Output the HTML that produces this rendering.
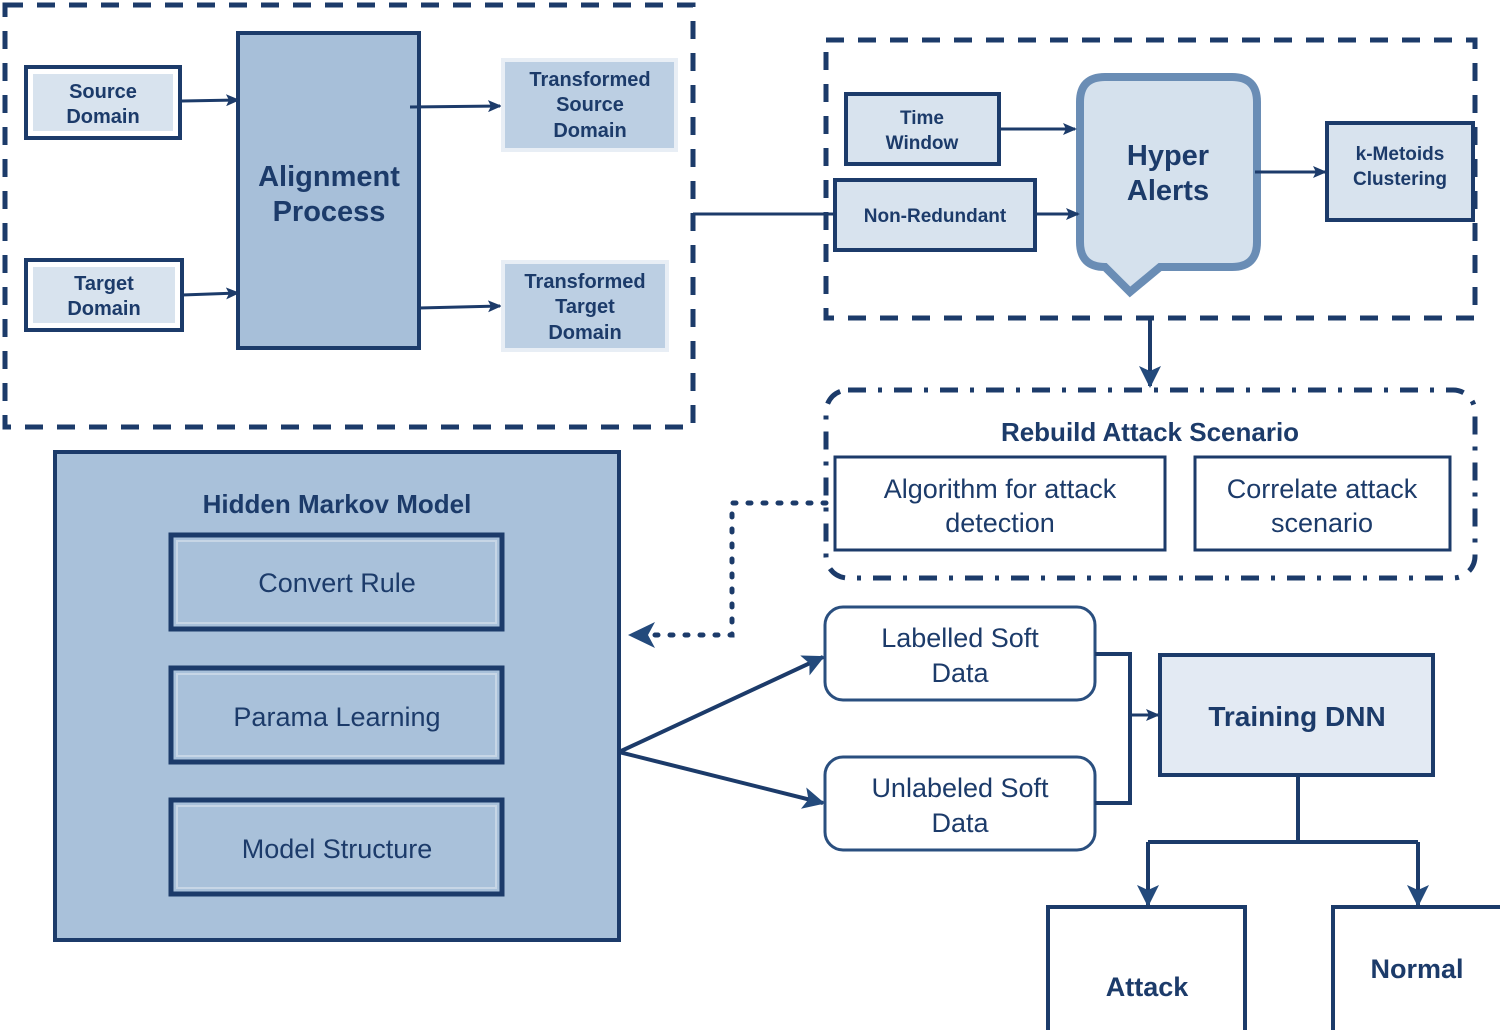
<!DOCTYPE html>
<html><head><meta charset="utf-8"><style>
html,body{margin:0;padding:0;background:#fff;}
svg{display:block;}
text{font-family:"Liberation Sans",sans-serif;fill:#1c3b6a;text-anchor:middle;}
</style></head><body>
<svg width="1500" height="1030" viewBox="0 0 1500 1030" xmlns="http://www.w3.org/2000/svg">
<defs>
<marker id="a" markerWidth="14" markerHeight="12" refX="12" refY="6" orient="auto" markerUnits="userSpaceOnUse"><path d="M0,0 L14,6 L0,12 L3,6 z" fill="#1c3b6a"/></marker>
<marker id="b" markerWidth="22" markerHeight="22" refX="20" refY="11" orient="auto" markerUnits="userSpaceOnUse"><path d="M0,0 L22,11 L0,22 L5,11 z" fill="#234a7c"/></marker>
</defs>
<g stroke="#1c3b6a" fill="none">
<rect x="5" y="5" width="688" height="422" stroke-width="5" stroke-dasharray="18 14"/>
<rect x="26" y="67" width="154" height="71" stroke-width="4" fill="#fff"/>
<rect x="33" y="74" width="140" height="57" stroke="none" fill="#d8e3ee"/>
<rect x="26" y="260" width="156" height="70" stroke-width="4" fill="#fff"/>
<rect x="33" y="267" width="142" height="56" stroke="none" fill="#d8e3ee"/>
<rect x="238" y="33" width="181" height="315" stroke-width="4" fill="#a7bfd9"/>
<line x1="182" y1="101" x2="238" y2="100" stroke-width="3" marker-end="url(#a)"/>
<line x1="182" y1="295" x2="238" y2="293" stroke-width="3" marker-end="url(#a)"/>
<line x1="410" y1="107" x2="500" y2="106" stroke-width="3" marker-end="url(#a)"/>
<line x1="419" y1="308" x2="500" y2="306" stroke-width="3" marker-end="url(#a)"/>
<rect x="503" y="60" width="173" height="90" stroke="#e8eef5" stroke-width="4" fill="#bccfe3"/>
<rect x="503" y="262" width="164" height="88" stroke="#e8eef5" stroke-width="4" fill="#bccfe3"/>
<line x1="693" y1="214" x2="835" y2="214" stroke-width="3"/>
<rect x="826" y="40" width="649" height="278" stroke-width="5" stroke-dasharray="18 14"/>
<rect x="846" y="94" width="153" height="70" stroke-width="4" fill="#d8e3ee"/>
<rect x="835" y="180" width="200" height="70" stroke-width="4" fill="#d8e3ee"/>
<rect x="1327" y="123" width="146" height="97" stroke-width="4" fill="#d8e3ee"/>
<path d="M1105,77 H1232 Q1257,77 1257,102 V242 Q1257,267 1232,267 H1160 L1130,292 L1105,267 Q1080,267 1080,242 V102 Q1080,77 1105,77 Z" stroke="#6a8db5" stroke-width="8" fill="#d5e1ed"/>
<line x1="999" y1="129" x2="1075" y2="129" stroke-width="3" marker-end="url(#a)"/>
<line x1="1035" y1="214" x2="1078" y2="214" stroke-width="3" marker-end="url(#a)"/>
<line x1="1255" y1="172" x2="1325" y2="172" stroke-width="3" marker-end="url(#a)"/>
<line x1="1150" y1="318" x2="1150" y2="386" stroke-width="4" marker-end="url(#b)"/>
<rect x="826" y="390" width="649" height="188" rx="22" stroke-width="5" stroke-dasharray="18 12 4 12"/>
<rect x="835" y="457" width="330" height="93" stroke-width="3" fill="#fff"/>
<rect x="1195" y="457" width="255" height="93" stroke-width="3" fill="#fff"/>
<path d="M826,503 H732 V635 H650" stroke-width="5" stroke-dasharray="3 12" stroke-linecap="round"/>
<path d="M628,635 L655,622 L648,635 L655,648 Z" fill="#234a7c" stroke="none"/>
<rect x="55" y="452" width="564" height="488" stroke-width="4" fill="#a9c1da"/>
<rect x="171" y="535" width="331" height="94" stroke-width="5"/>
<rect x="177" y="541" width="319" height="82" stroke="#c7d6e6" stroke-width="2"/>
<rect x="171" y="668" width="331" height="94" stroke-width="5"/>
<rect x="177" y="674" width="319" height="82" stroke="#c7d6e6" stroke-width="2"/>
<rect x="171" y="800" width="331" height="94" stroke-width="5"/>
<rect x="177" y="806" width="319" height="82" stroke="#c7d6e6" stroke-width="2"/>
<line x1="619" y1="752" x2="823" y2="657" stroke-width="4" marker-end="url(#b)"/>
<line x1="619" y1="752" x2="823" y2="803" stroke-width="4" marker-end="url(#b)"/>
<rect x="825" y="607" width="270" height="93" rx="18" stroke="#2a4f7f" stroke-width="3" fill="#fff"/>
<rect x="825" y="757" width="270" height="93" rx="18" stroke="#2a4f7f" stroke-width="3" fill="#fff"/>
<path d="M1095,654 H1130 V803 H1095" stroke-width="4"/>
<line x1="1130" y1="715" x2="1158" y2="715" stroke-width="3" marker-end="url(#a)"/>
<rect x="1160" y="655" width="273" height="120" stroke-width="4" fill="#e3eaf3"/>
<path d="M1298,775 V842 M1148,842 H1418 M1148,842 V905 M1418,842 V905" stroke-width="4"/>
<line x1="1148" y1="880" x2="1148" y2="905" stroke-width="4" marker-end="url(#b)"/>
<line x1="1418" y1="880" x2="1418" y2="905" stroke-width="4" marker-end="url(#b)"/>
<rect x="1048" y="907" width="197" height="125" stroke-width="4" fill="#fff"/>
<rect x="1333" y="907" width="170" height="125" stroke-width="4" fill="#fff"/>
</g>
<g font-weight="bold">
<text x="103" y="98" font-size="20">Source</text><text x="103" y="123" font-size="20">Domain</text>
<text x="104" y="290" font-size="20">Target</text><text x="104" y="315" font-size="20">Domain</text>
<text x="329" y="186" font-size="29">Alignment</text><text x="329" y="221" font-size="29">Process</text>
<text x="590" y="86" font-size="20">Transformed</text><text x="590" y="111" font-size="20">Source</text><text x="590" y="137" font-size="20">Domain</text>
<text x="585" y="288" font-size="20">Transformed</text><text x="585" y="313" font-size="20">Target</text><text x="585" y="339" font-size="20">Domain</text>
<text x="922" y="124" font-size="19">Time</text><text x="922" y="149" font-size="19">Window</text>
<text x="935" y="222" font-size="19">Non-Redundant</text>
<text x="1168" y="165" font-size="29">Hyper</text><text x="1168" y="200" font-size="29">Alerts</text>
<text x="1400" y="160" font-size="19">k-Metoids</text><text x="1400" y="185" font-size="19">Clustering</text>
<text x="1150" y="441" font-size="26">Rebuild Attack Scenario</text>
<text x="337" y="513" font-size="26">Hidden Markov Model</text>
<text x="1297" y="726" font-size="28">Training DNN</text>
<text x="1147" y="996" font-size="27">Attack</text>
<text x="1417" y="978" font-size="27">Normal</text>
</g>
<g font-size="27">
<text x="1000" y="498">Algorithm for attack</text><text x="1000" y="532">detection</text>
<text x="1322" y="498">Correlate attack</text><text x="1322" y="532">scenario</text>
<text x="337" y="592">Convert Rule</text>
<text x="337" y="726">Parama Learning</text>
<text x="337" y="858">Model Structure</text>
<text x="960" y="647">Labelled Soft</text><text x="960" y="682">Data</text>
<text x="960" y="797">Unlabeled Soft</text><text x="960" y="832">Data</text>
</g>
</svg>
</body></html>
